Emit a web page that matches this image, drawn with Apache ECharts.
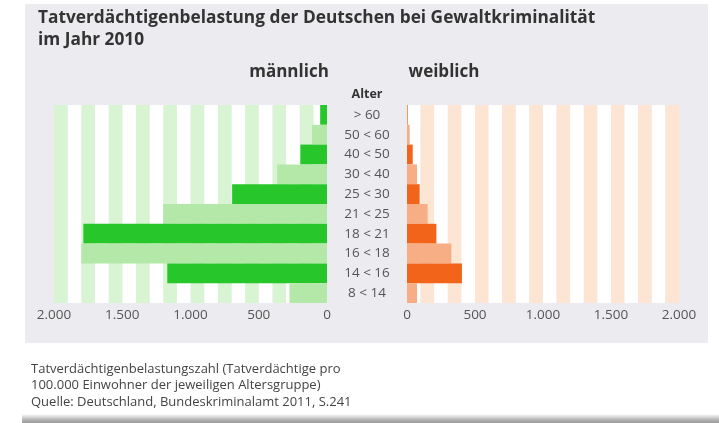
<!DOCTYPE html>
<html>
<head>
<meta charset="utf-8">
<script src="https://cdn.jsdelivr.net/npm/echarts@6/dist/echarts.min.js"></script>
<style>
  html, body { margin: 0; padding: 0; background: #fff; }
  #chart { width: 719px; height: 423px; }
</style>
</head>
<body>
<div id="chart"></div>
<script>
// Altersgruppen, von oben nach unten
const ageGroups = ['> 60', '50 < 60', '40 < 50', '30 < 40', '25 < 30', '21 < 25', '18 < 21', '16 < 18', '14 < 16', '8 < 14']
const maleValues = [50, 110, 195, 365, 695, 1200, 1785, 1800, 1170, 275]
const femaleValues = [5, 20, 42, 74, 93, 152, 216, 326, 404, 74]
const tickLabels = [0, 500, 1000, 1500, 2000]

const greenDark = '#27c62b'
const greenLight = '#b3e8a8'
const orangeDark = '#f26419'
const orangeLight = '#f7ae85'

function fmt (v) {
  return String(v).replace(/\B(?=(\d{3})+(?!\d))/g, '.')
}
function tickFmt (v) {
  return tickLabels.indexOf(v) >= 0 ? fmt(v) : ''
}

const chart = echarts.init(document.getElementById('chart'))
const font = '"Open Sans", "Noto Sans", sans-serif'

const valueAxis = (gridIndex, inverse, stripe) => ({
  type: 'value',
  gridIndex: gridIndex,
  min: 0,
  max: 2000,
  interval: 100,
  inverse: inverse,
  axisLine: { show: false },
  axisTick: { show: false },
  splitLine: { show: false },
  splitArea: { show: true, areaStyle: { color: ['#ffffff', stripe] } },
  axisLabel: {
    formatter: tickFmt,
    color: '#555',
    fontSize: 13.5,
    fontFamily: font,
    margin: 5,
    showMinLabel: true,
    showMaxLabel: true
  }
})

const option = {
  backgroundColor: '#ffffff',
  animation: false,
  textStyle: { fontFamily: font },
  graphic: [
    { type: 'rect', z: -10, shape: { x: 25, y: 4, width: 683, height: 339 }, style: { fill: '#ececf0' } },
    {
      type: 'rect', z: -10, shape: { x: 22, y: 414, width: 697, height: 9 },
      style: {
        fill: new echarts.graphic.LinearGradient(0, 0, 0, 1, [
          { offset: 0, color: '#ffffff' },
          { offset: 0.6, color: '#b8b8b8' },
          { offset: 1, color: '#9a9a9a' }
        ])
      }
    },
    { type: 'text', left: 38, top: 10, style: { text: 'Tatverdächtigenbelastung der Deutschen bei Gewaltkriminalität', font: 'bold 17.3px ' + font, fill: '#333' } },
    { type: 'text', left: 38, top: 32, style: { text: 'im Jahr 2010', font: 'bold 17.3px ' + font, fill: '#333' } },
    { type: 'text', x: 289, y: 72, style: { text: 'männlich', font: 'bold 17px ' + font, fill: '#333', align: 'center', verticalAlign: 'middle' } },
    { type: 'text', x: 444, y: 72, style: { text: 'weiblich', font: 'bold 17px ' + font, fill: '#333', align: 'center', verticalAlign: 'middle' } },
    { type: 'text', x: 367, y: 94, style: { text: 'Alter', font: 'bold 12.5px ' + font, fill: '#333', align: 'center', verticalAlign: 'middle' } },
    {
      type: 'text', left: 31, top: 361,
      style: {
        text: 'Tatverdächtigenbelastungszahl (Tatverdächtige pro\n100.000 Einwohner der jeweiligen Altersgruppe)\nQuelle: Deutschland, Bundeskriminalamt 2011, S.241',
        font: '13px ' + font, fill: '#444', lineHeight: 16.5
      }
    }
  ],
  grid: [
    { left: 54, right: 392, top: 105, height: 198 },
    { left: 407, right: 40, top: 105, height: 198 }
  ],
  xAxis: [
    valueAxis(0, true, '#d9f4d3'),
    valueAxis(1, false, '#fde5d3')
  ],
  yAxis: [
    {
      type: 'category',
      gridIndex: 0,
      data: ageGroups,
      inverse: true,
      position: 'right',
      axisLine: { show: false },
      axisTick: { show: false },
      axisLabel: { color: '#555', fontSize: 13.5, fontFamily: font, align: 'center', margin: 40 }
    },
    {
      type: 'category',
      gridIndex: 1,
      data: ageGroups,
      inverse: true,
      axisLine: { show: false },
      axisTick: { show: false },
      axisLabel: { show: false }
    }
  ],
  series: [
    {
      name: 'männlich',
      type: 'bar',
      xAxisIndex: 0,
      yAxisIndex: 0,
      data: maleValues,
      barWidth: '100%',
      itemStyle: { color: p => (p.dataIndex % 2 === 0 ? greenDark : greenLight) }
    },
    {
      name: 'weiblich',
      type: 'bar',
      xAxisIndex: 1,
      yAxisIndex: 1,
      data: femaleValues,
      barWidth: '100%',
      itemStyle: { color: p => (p.dataIndex % 2 === 0 ? orangeDark : orangeLight) }
    }
  ]
}
chart.setOption(option)
</script>
</body>
</html>
